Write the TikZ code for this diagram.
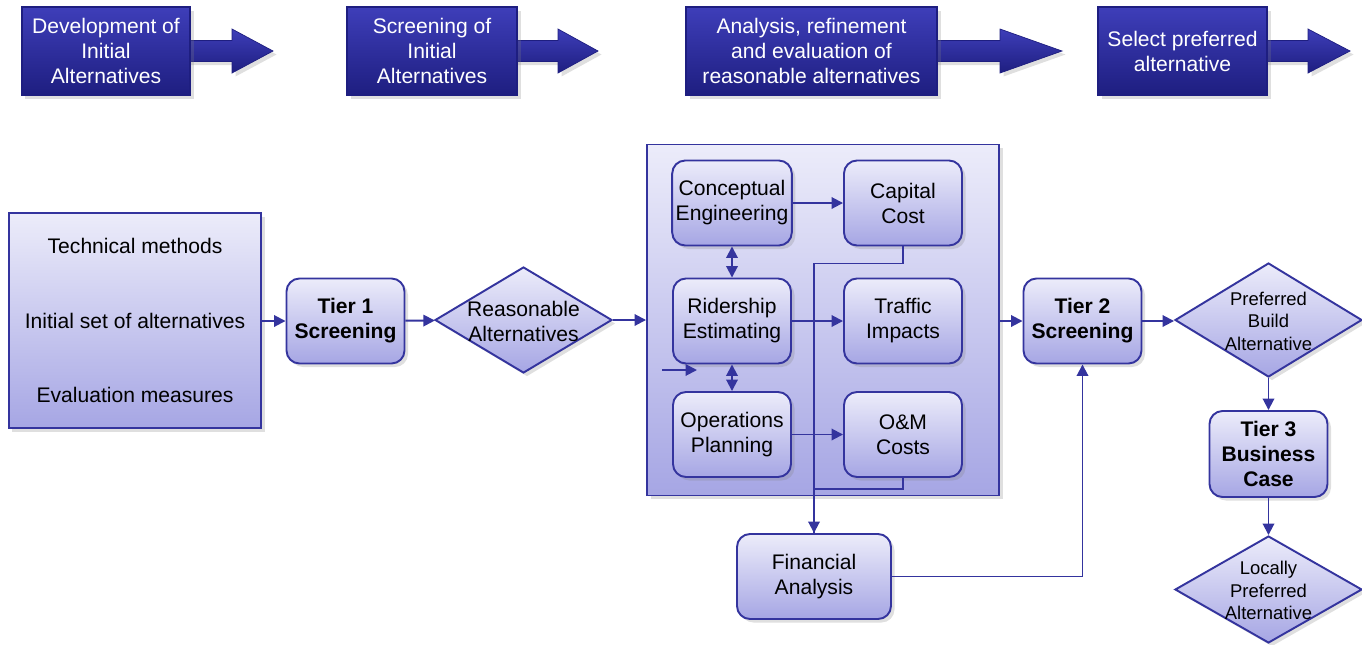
\documentclass[tikz,border=0pt]{standalone}
\usepackage{fontspec}
\setmainfont{Liberation Sans}
\usetikzlibrary{arrows.meta,shapes.geometric,shadows}

\definecolor{edgeblue}{RGB}{52,52,158}
\definecolor{boxtop}{RGB}{236,236,250}
\definecolor{boxbot}{RGB}{166,166,228}
\definecolor{bantop}{RGB}{62,62,185}
\definecolor{banbot}{RGB}{30,30,128}

\newcommand{\boxfont}{\fontsize{12}{14.2}\selectfont}
\newcommand{\diafont}{\fontsize{10.5}{12.8}\selectfont}

\begin{document}
\begin{tikzpicture}[x=0.2mm,y=-0.2mm,
  >={Triangle[length=2.3mm,width=2.3mm]},
  softshadow/.style={drop shadow={opacity=0.25,shadow xshift=0.7mm,shadow yshift=-0.7mm}},
  lightfill/.style={top color=boxtop,bottom color=boxbot,draw=edgeblue,line width=1.1pt,softshadow},
  task/.style={lightfill,rectangle,rounded corners=2.6mm,minimum width=23.6mm,minimum height=17mm,inner sep=2pt,align=center,font=\boxfont},
  tier/.style={task,font=\boxfont\bfseries},
  decision/.style={lightfill,diamond,minimum width=37.4mm,minimum height=22.8mm,inner sep=0pt},
  dlabel/.style={align=center,font=\diafont,inner sep=0pt},
  banner/.style={rectangle,top color=bantop,bottom color=banbot,draw=banbot,line width=0.6pt,minimum height=17.6mm,align=center,text=white,font=\boxfont,softshadow},
  bannerarrow/.style={top color=bantop,bottom color=banbot,draw=banbot,line width=0.4pt,softshadow},
  conn/.style={draw=edgeblue,line width=1.1pt,->},
  link/.style={draw=edgeblue,line width=1.1pt}]
\useasboundingbox (0,0) rectangle (1362,644);

% phase banners along the top
\foreach \s/\b/\t in {180/232/273, 507/558/598, 927/1000/1062, 1257/1308/1350}
  \draw[bannerarrow] (\s,40.5) -- (\b,40.5) -- (\b,29) -- (\t,51) -- (\b,73) -- (\b,61.5) -- (\s,61.5) -- cycle;
\node[banner,minimum width=33.6mm] (b1) at (106,51) {Development of\\Initial\\Alternatives};
\node[banner,minimum width=34mm] (b2) at (432,51) {Screening of\\Initial\\Alternatives};
\node[banner,minimum width=50.2mm] (b3) at (811.5,51) {Analysis, refinement\\and evaluation of\\reasonable alternatives};
\node[banner,minimum width=33.8mm] (b4) at (1182.5,51) {Select preferred\\alternative};

% screening flow
\node[lightfill,minimum width=50.4mm,minimum height=43mm,align=center,font=\boxfont] (inputs) at (135,320.5)
  {Technical methods\\[10mm]Initial set of alternatives\\[10mm]Evaluation measures};
\node[tier] (t1) at (345.5,321) {Tier 1\\Screening};
\node[decision,minimum width=35.4mm,minimum height=21.2mm] (rsn) at (523.5,320) {};
\node[dlabel,font=\boxfont] (rsn-t) at (523.5,321) {Reasonable\\Alternatives};

\node[lightfill,minimum width=70.4mm,minimum height=70.2mm] (grp) at (823,320) {};
\node[task] (ce) at (732,203) {Conceptual\\Engineering};
\node[task] (cap) at (903,203) {Capital\\Cost};
\node[task] (re) at (732,321) {Ridership\\Estimating};
\node[task] (tr) at (903,321) {Traffic\\Impacts};
\node[task] (op) at (732,434.5) {Operations\\Planning};
\node[task] (om) at (903,434.5) {O\&M\\Costs};
\node[task,minimum width=30.8mm] (fa) at (814,576.5) {Financial\\Analysis};

\node[tier] (t2) at (1082.5,321) {Tier 2\\Screening};
\node[decision] (pba) at (1268.5,320) {};
\node[dlabel] (pba-t) at (1268.5,321) {Preferred\\Build\\Alternative};
\node[tier,minimum height=17.2mm] (t3) at (1268.5,454) {Tier 3\\Business\\Case};
\node[decision,minimum height=21.4mm] (lpa) at (1268.5,589.5) {};
\node[dlabel] (lpa-t) at (1268.5,590.5) {Locally\\Preferred\\Alternative};

\coordinate (in) at (662,370);
\coordinate (inend) at (697,370);

\draw[conn] (inputs.east |- t1) -- (t1);
\draw[conn] (t1) -- (rsn);
\draw[conn] (rsn) -- (grp);
\draw[conn] (grp.east |- t2) -- (t2);
\draw[conn] (t2) -- (pba.west |- t2);
\draw[conn] (pba) -- (t3);
\draw[conn] (t3) -- (lpa);

\draw[conn] (ce) -- (cap);
\draw[conn] (re) -- (tr);
\draw[conn] (op) -- (om);
\draw[conn,<->] (ce) -- (re);
\draw[conn,<->] (re) -- (op);
\draw[conn] (in) -- (inend);

\draw[conn] (cap.south) -- ++(0,17) -| (fa.north);
\draw[link] (om.south) -- ++(0,11) -| (fa.north);
\draw[conn] (fa.east) -| (t2.south);
\end{tikzpicture}
\end{document}
